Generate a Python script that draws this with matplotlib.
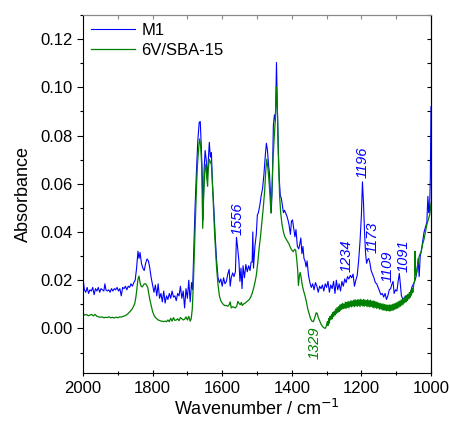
import matplotlib
matplotlib.use("Agg")
import matplotlib.pyplot as plt
from matplotlib.ticker import MultipleLocator

plt.rcParams["font.family"] = ["Liberation Sans", "DejaVu Sans"]

# M1 spectrum (wavenumber / cm-1, absorbance)
m1_wn = [
    2000, 1996, 1992, 1988, 1984, 1980, 1976, 1972, 1968, 1964, 1960, 1956, 1952, 1948,
    1944, 1940, 1937, 1934, 1930, 1926, 1922, 1918, 1914, 1910, 1906, 1902, 1898, 1894,
    1890, 1886, 1882, 1878, 1874, 1870, 1866, 1862, 1858, 1854, 1850, 1846, 1842, 1839,
    1836, 1832, 1828, 1824, 1820, 1816, 1812, 1808, 1804, 1800, 1796, 1792, 1788, 1784,
    1780, 1776, 1772, 1768, 1764, 1760, 1756, 1752, 1748, 1744, 1740, 1736, 1732, 1728,
    1724, 1720, 1716, 1712, 1708, 1704, 1700, 1696, 1692, 1688, 1685, 1682, 1678, 1674,
    1670, 1666, 1663, 1660, 1657, 1655, 1652, 1649, 1646, 1643, 1640, 1637, 1634, 1631,
    1628, 1624, 1620, 1616, 1612, 1608, 1604, 1600, 1596, 1592, 1588, 1584, 1580, 1577,
    1574, 1570, 1566, 1562, 1559, 1556, 1552, 1549, 1546, 1543, 1540, 1536, 1532, 1528,
    1524, 1520, 1517, 1514, 1512, 1510, 1506, 1502, 1499, 1496, 1492, 1488, 1484, 1480,
    1476, 1473, 1470, 1467, 1464, 1461, 1459, 1456, 1453, 1450, 1447, 1444, 1442, 1439,
    1436, 1433, 1430, 1427, 1424, 1421, 1418, 1414, 1411, 1408, 1404, 1401, 1398, 1395,
    1391, 1388, 1384, 1380, 1377, 1374, 1371, 1368, 1365, 1362, 1359, 1356, 1352, 1348,
    1344, 1340, 1336, 1332, 1328, 1324, 1320, 1316, 1312, 1308, 1304, 1300, 1296, 1292,
    1288, 1284, 1280, 1276, 1272, 1268, 1264, 1260, 1256, 1252, 1248, 1244, 1240, 1236,
    1232, 1228, 1224, 1220, 1216, 1212, 1208, 1204, 1200, 1197, 1194, 1191, 1188, 1185,
    1182, 1179, 1176, 1172, 1168, 1164, 1160, 1156, 1152, 1148, 1144, 1140, 1136, 1132,
    1128, 1124, 1120, 1116, 1112, 1109, 1106, 1102, 1098, 1094, 1091, 1088, 1085, 1082,
    1078, 1074, 1070, 1066, 1062, 1058, 1054, 1050, 1046, 1043, 1040, 1037, 1034, 1031,
    1028, 1024, 1020, 1016, 1012, 1009, 1006, 1004, 1002, 1000,
]
m1_abs = [
    0.021, 0.016, 0.015, 0.017, 0.0145, 0.016, 0.0155, 0.017, 0.014, 0.0165, 0.0155, 0.017, 0.015, 0.0165,
    0.016, 0.0155, 0.0185, 0.016, 0.0155, 0.016, 0.015, 0.0165, 0.0155, 0.0165, 0.016, 0.017, 0.0155, 0.0165,
    0.0135, 0.017, 0.0165, 0.0175, 0.016, 0.0175, 0.017, 0.0185, 0.0175, 0.019, 0.020, 0.025, 0.032, 0.029,
    0.0315, 0.027, 0.025, 0.024, 0.027, 0.0288, 0.028, 0.025, 0.021, 0.018, 0.015, 0.018, 0.0135, 0.0185,
    0.0125, 0.0145, 0.011, 0.0155, 0.0105, 0.0135, 0.012, 0.0145, 0.0125, 0.0155, 0.013, 0.0135, 0.0115, 0.0145,
    0.0135, 0.0175, 0.0125, 0.0155, 0.0085, 0.0165, 0.0125, 0.020, 0.011, 0.019, 0.016, 0.030, 0.050, 0.065,
    0.078, 0.0855, 0.0858, 0.075, 0.062, 0.045, 0.066, 0.0738, 0.070, 0.062, 0.070, 0.0772, 0.071, 0.073,
    0.060, 0.050, 0.038, 0.028, 0.021, 0.019, 0.0205, 0.0175, 0.021, 0.0185, 0.0195, 0.0225, 0.0245, 0.0175,
    0.021, 0.023, 0.0215, 0.0235, 0.0378, 0.034, 0.028, 0.0195, 0.025, 0.0165, 0.026, 0.021, 0.0265, 0.0235,
    0.026, 0.024, 0.0275, 0.0275, 0.040, 0.025, 0.034, 0.039, 0.047, 0.048, 0.051, 0.055, 0.058, 0.064,
    0.072, 0.0768, 0.074, 0.068, 0.064, 0.055, 0.048, 0.060, 0.084, 0.0886, 0.086, 0.1103, 0.095, 0.075,
    0.062, 0.055, 0.054, 0.051, 0.048, 0.049, 0.048, 0.0465, 0.045, 0.043, 0.039, 0.0445, 0.045, 0.042,
    0.038, 0.041, 0.034, 0.033, 0.035, 0.0375, 0.031, 0.034, 0.029, 0.028, 0.0255, 0.028, 0.022, 0.019,
    0.017, 0.0185, 0.016, 0.019, 0.0175, 0.015, 0.0175, 0.0165, 0.018, 0.0155, 0.0185, 0.017, 0.0195, 0.015,
    0.018, 0.0165, 0.0195, 0.0145, 0.020, 0.016, 0.0185, 0.0155, 0.0195, 0.0175, 0.0205, 0.019, 0.0215, 0.0205,
    0.022, 0.021, 0.0225, 0.0175, 0.020, 0.022, 0.028, 0.036, 0.047, 0.0608, 0.052, 0.040, 0.031, 0.027,
    0.0285, 0.029, 0.0275, 0.024, 0.0225, 0.021, 0.019, 0.0185, 0.017, 0.0155, 0.014, 0.0145, 0.013, 0.0145,
    0.012, 0.0135, 0.016, 0.0165, 0.0185, 0.0195, 0.0145, 0.016, 0.0155, 0.020, 0.0228, 0.018, 0.0135, 0.0125,
    0.0115, 0.0135, 0.0125, 0.014, 0.0135, 0.0155, 0.0175, 0.0185, 0.020, 0.0215, 0.024, 0.029, 0.0215, 0.030,
    0.032, 0.036, 0.040, 0.042, 0.044, 0.0548, 0.048, 0.050, 0.062, 0.092,
]

# 6V/SBA-15 spectrum
sba_wn = [
    2000, 1995, 1990, 1985, 1980, 1975, 1970, 1965, 1960, 1955, 1950, 1945, 1940, 1935,
    1930, 1925, 1920, 1915, 1910, 1905, 1900, 1895, 1890, 1885, 1880, 1875, 1870, 1865,
    1860, 1855, 1851, 1848, 1845, 1842, 1839, 1836, 1833, 1830, 1827, 1824, 1820, 1817,
    1814, 1811, 1808, 1804, 1800, 1796, 1792, 1788, 1784, 1780, 1776, 1772, 1768, 1764,
    1760, 1756, 1752, 1748, 1744, 1740, 1736, 1732, 1728, 1724, 1720, 1716, 1712, 1708,
    1704, 1700, 1696, 1692, 1689, 1686, 1683, 1680, 1677, 1674, 1671, 1668, 1665, 1662,
    1659, 1656, 1653, 1650, 1647, 1644, 1642, 1640, 1637, 1634, 1631, 1628, 1625, 1622,
    1619, 1616, 1612, 1608, 1604, 1600, 1596, 1592, 1588, 1584, 1580, 1577, 1574, 1570,
    1566, 1562, 1558, 1555, 1552, 1548, 1545, 1542, 1538, 1534, 1530, 1526, 1522, 1518,
    1514, 1510, 1506, 1502, 1498, 1494, 1490, 1486, 1482, 1478, 1475, 1472, 1469, 1466,
    1463, 1460, 1457, 1454, 1451, 1448, 1444, 1441, 1438, 1435, 1432, 1428, 1424, 1420,
    1416, 1412, 1408, 1404, 1400, 1396, 1392, 1389, 1386, 1383, 1381, 1378, 1376, 1373,
    1370, 1366, 1362, 1358, 1354, 1350, 1346, 1342, 1338, 1334, 1330, 1327, 1324, 1320,
    1316, 1312, 1308, 1304, 1301,
    1298, 1296, 1294, 1292, 1290, 1288, 1286, 1284, 1282, 1280, 1278, 1276, 1274, 1272,
    1270, 1268, 1266, 1264, 1262, 1260, 1258, 1256, 1254, 1252, 1250, 1248, 1246, 1244,
    1242, 1240, 1238, 1236, 1234, 1232, 1230, 1228, 1226, 1224, 1222, 1220, 1218, 1216,
    1214, 1212, 1210, 1208, 1206, 1204, 1202, 1200, 1198, 1196, 1194, 1192, 1190, 1188,
    1186, 1184, 1182, 1180, 1178, 1176, 1174, 1172, 1170, 1168, 1166, 1164, 1162, 1160,
    1158, 1156, 1154, 1152, 1150, 1148, 1146, 1144, 1142, 1140, 1138, 1136, 1134, 1132,
    1130, 1128, 1126, 1124, 1122, 1120, 1118, 1116, 1114, 1112, 1110, 1108, 1106, 1104,
    1102, 1100, 1098, 1096, 1094, 1092, 1090, 1088, 1086, 1084, 1082, 1080, 1078, 1076,
    1074, 1072, 1070, 1068, 1066, 1064, 1062, 1060, 1058, 1056, 1054, 1052,
    1049, 1047, 1046, 1045, 1043, 1040, 1037, 1034, 1031, 1028, 1024, 1020, 1016, 1012,
    1008, 1004, 1002, 1000,
]
sba_abs = [
    0.0062, 0.0055, 0.0058, 0.0052, 0.0055, 0.0058, 0.0052, 0.0058, 0.0050, 0.0048, 0.0046, 0.0048, 0.0044, 0.0046,
    0.0045, 0.0048, 0.0044, 0.0046, 0.0043, 0.0047, 0.0044, 0.0048, 0.0047, 0.0050, 0.0052, 0.0056, 0.0062, 0.0070,
    0.0078, 0.0090, 0.0105, 0.0130, 0.0165, 0.0205, 0.0217, 0.0190, 0.0175, 0.0172, 0.0178, 0.0185, 0.0185, 0.0178,
    0.0170, 0.0145, 0.0120, 0.0095, 0.0070, 0.0055, 0.0045, 0.0040, 0.0035, 0.0033, 0.0030, 0.0030, 0.0028, 0.0030,
    0.0028, 0.0035, 0.0028, 0.0042, 0.0030, 0.0045, 0.0033, 0.0035, 0.0040, 0.0032, 0.0045, 0.0040, 0.0035, 0.0038,
    0.0048, 0.0035, 0.0050, 0.0030, 0.0040, 0.0080, 0.0180, 0.0320, 0.0450, 0.0580, 0.0680, 0.0740, 0.0786, 0.0760,
    0.0680, 0.0415, 0.0560, 0.0650, 0.0680, 0.0620, 0.0590, 0.0660, 0.0702, 0.0690, 0.0680, 0.0600, 0.0500, 0.0400,
    0.0320, 0.0250, 0.0180, 0.0135, 0.0115, 0.0105, 0.0098, 0.0095, 0.0095, 0.0092, 0.0098, 0.0110, 0.0085, 0.0090,
    0.0088, 0.0085, 0.0093, 0.0112, 0.0105, 0.0098, 0.0108, 0.0095, 0.0102, 0.0105, 0.0110, 0.0115, 0.0120, 0.0130,
    0.0145, 0.0165, 0.0190, 0.0220, 0.0270, 0.0330, 0.0380, 0.0440, 0.0500, 0.0570, 0.0650, 0.0702, 0.0670, 0.0620,
    0.0560, 0.0478, 0.0580, 0.0700, 0.0780, 0.0850, 0.1001, 0.0880, 0.0680, 0.0550, 0.0480, 0.0430, 0.0400, 0.0380,
    0.0370, 0.0360, 0.0350, 0.0335, 0.0325, 0.0318, 0.0328, 0.0325, 0.0290, 0.0240, 0.0178, 0.0220, 0.0232, 0.0210,
    0.0180, 0.0155, 0.0135, 0.0110, 0.0080, 0.0060, 0.0040, 0.0030, 0.0028, 0.0045, 0.0065, 0.0062, 0.0045, 0.0032,
    0.0018, 0.0008, 0.0003, 0.0000, 0.0008,
    # thick noisy band, 1298-1052
    0.0028, 0.0012, 0.0041, 0.0022, 0.0050, 0.0036, 0.0058, 0.0040, 0.0066, 0.0049, 0.0071, 0.0055, 0.0080, 0.0062,
    0.0086, 0.0066, 0.0090, 0.0070, 0.0097, 0.0075, 0.0100, 0.0079, 0.0104, 0.0082, 0.0101, 0.0084, 0.0109, 0.0083,
    0.0107, 0.0088, 0.0112, 0.0085, 0.0110, 0.0092, 0.0115, 0.0089, 0.0113, 0.0093, 0.0117, 0.0090, 0.0119, 0.0094,
    0.0116, 0.0091, 0.0120, 0.0095, 0.0118, 0.0090, 0.0121, 0.0096, 0.0117, 0.0093, 0.0120, 0.0092, 0.0118, 0.0095,
    0.0116, 0.0090, 0.0119, 0.0092, 0.0115, 0.0089, 0.0117, 0.0091, 0.0113, 0.0088, 0.0114, 0.0085, 0.0112, 0.0087,
    0.0110, 0.0083, 0.0108, 0.0085, 0.0105, 0.0080, 0.0104, 0.0081, 0.0101, 0.0077, 0.0102, 0.0076, 0.0099, 0.0075,
    0.0098, 0.0073, 0.0097, 0.0074, 0.0096, 0.0072, 0.0098, 0.0073, 0.0097, 0.0075, 0.0100, 0.0076, 0.0102, 0.0079,
    0.0104, 0.0082, 0.0107, 0.0084, 0.0111, 0.0088, 0.0113, 0.0092, 0.0118, 0.0096, 0.0122, 0.0100, 0.0126, 0.0106,
    0.0130, 0.0110, 0.0136, 0.0116, 0.0142, 0.0122, 0.0149, 0.0129, 0.0156, 0.0138, 0.0166, 0.0150,
    0.0190, 0.0195, 0.0320, 0.0240, 0.0220, 0.0250, 0.0270, 0.0300, 0.0310, 0.0320, 0.0350, 0.0370, 0.0400, 0.0430,
    0.0450, 0.0470, 0.0490, 0.0520,
]

# peak labels
peak_text = ["1556", "1234", "1196", "1173", "1109", "1091", "1329"]
peak_x = [1556, 1242, 1197, 1169, 1125, 1080, 1333]
peak_y = [0.0387, 0.0235, 0.0622, 0.0311, 0.0193, 0.0235, -0.0059]
peak_color = ["#0000ff"] * 6 + ["#008000"]
peak_va = ["bottom"] * 6 + ["center"]

fig = plt.figure(figsize=(4.5, 4.26), dpi=100)
ax = fig.add_axes([0.1844, 0.1244, 0.7734, 0.8404])

ax.plot(m1_wn, m1_abs, color="#0000ff", lw=0.8, label="M1")
ax.plot(sba_wn, sba_abs, color="#008000", lw=0.9, label="6V/SBA-15")

for t, x, y, c, va in zip(peak_text, peak_x, peak_y, peak_color, peak_va):
    ax.text(x, y, t, rotation=90, color=c, fontsize=10.5, style="italic",
            ha="center", va=va)

ax.set_xlim(2000, 1000)
ax.set_ylim(-0.0185, 0.130)
ax.xaxis.set_major_locator(MultipleLocator(200))
ax.xaxis.set_minor_locator(MultipleLocator(100))
ax.yaxis.set_major_locator(MultipleLocator(0.02))
ax.yaxis.set_minor_locator(MultipleLocator(0.01))
ax.yaxis.set_major_formatter(plt.FuncFormatter(lambda v, p: f"{v:.2f}"))

ax.tick_params(axis="both", which="both", labelsize=12, width=0.8)
ax.tick_params(axis="y", which="major", direction="out", length=4)
ax.tick_params(axis="y", which="minor", direction="out", length=2.5)
ax.tick_params(axis="x", which="major", direction="inout", length=5)
ax.tick_params(axis="x", which="minor", direction="inout", length=3)

# inward ticks on the right and top frame
right = ax.secondary_yaxis("right")
right.yaxis.set_major_locator(MultipleLocator(0.01))
right.tick_params(direction="in", length=3, width=0.8, labelright=False)
top = ax.secondary_xaxis("top")
top.xaxis.set_major_locator(MultipleLocator(100))
top.tick_params(direction="in", length=3, width=0.8, labeltop=False, color="#888888")
top.spines["top"].set_color("#888888")
ax.spines["top"].set_color("#888888")

ax.set_xlabel("Wavenumber / cm$^{-1}$", fontsize=13, labelpad=2)
ax.set_ylabel("Absorbance", fontsize=13, labelpad=6)

ax.legend(loc="upper left", frameon=False, fontsize=12, handlelength=2.6,
          handletextpad=0.4, borderaxespad=0.1, labelspacing=0.3)

fig.savefig("out.png", dpi=100)
